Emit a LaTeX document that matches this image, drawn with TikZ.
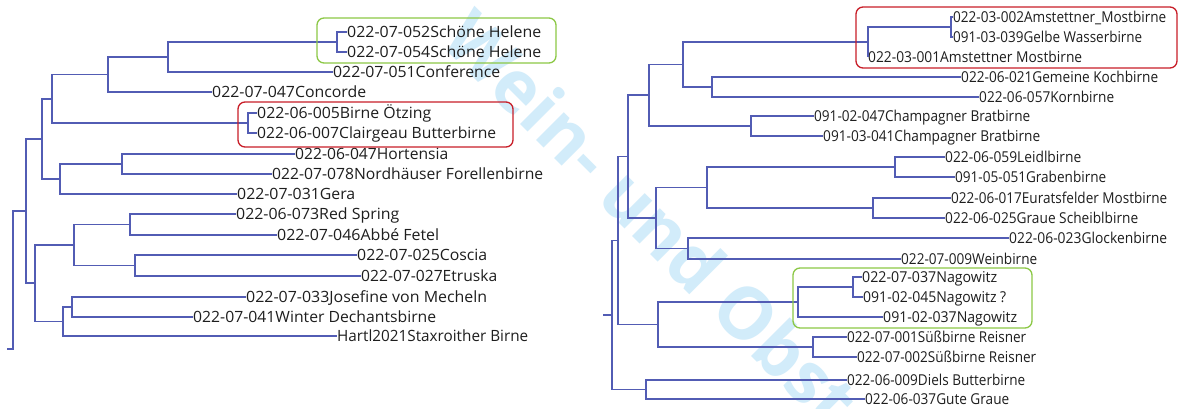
\documentclass[tikz,border=0pt]{standalone}
\usepackage{fontspec}
\usepackage{graphicx}
\setmainfont{Open Sans}
\definecolor{linec}{RGB}{82,92,180}
\definecolor{txt}{RGB}{30,30,30}
\definecolor{redc}{RGB}{200,30,40}
\definecolor{greenc}{RGB}{140,200,70}
\definecolor{wmark}{RGB}{210,236,250}
\newcommand{\fitw}[2]{\resizebox{#1pt}{\height}{#2}}
\begin{document}
\begin{tikzpicture}[x=1pt,y=-1pt,
  br/.style={draw=linec,line width=1.7pt},
  leaf/.style={anchor=west,inner sep=0pt,text height=10.5pt,text depth=0pt,
    font=\fontsize{15.5}{18}\selectfont,text=txt},
  leafr/.style={leaf,text height=10.2pt,font=\fontsize{15}{18}\selectfont},
  grpR/.style={draw=redc,line width=1.3pt,rounded corners=7pt},
  grpG/.style={draw=greenc,line width=1.3pt,rounded corners=7pt}]
\useasboundingbox[fill=white] (0,0) rectangle (1181,408);
% watermark
\begin{scope}
\clip (0,0) rectangle (1181,408);
\node[text=wmark,font=\bfseries\fontsize{72}{80}\selectfont,rotate=-45,inner sep=0pt] (wm) at (652,218) {Wein- und Obst};
\end{scope}
% ---------------- left tree leaves
\node[leaf] (L1) at (347,32) {\fitw{194}{022-07-052Schöne Helene}};
\node[leaf] (L2) at (347,52) {\fitw{194}{022-07-054Schöne Helene}};
\node[leaf] (L3) at (333,72) {\fitw{167}{022-07-051Conference}};
\node[leaf] (L4) at (212,92) {\fitw{154}{022-07-047Concorde}};
\node[leaf] (L5) at (257,113) {\fitw{174}{022-06-005Birne Ötzing}};
\node[leaf] (L6) at (257,133) {\fitw{239}{022-06-007Clairgeau Butterbirne}};
\node[leaf] (L7) at (295,154) {\fitw{153}{022-06-047Hortensia}};
\node[leaf] (L8) at (272,174) {\fitw{271}{022-07-078Nordhäuser Forellenbirne}};
\node[leaf] (L9) at (237,194) {\fitw{118}{022-07-031Gera}};
\node[leaf] (L10) at (236,214) {\fitw{163}{022-06-073Red Spring}};
\node[leaf] (L11) at (277,235) {\fitw{162}{022-07-046Abbé Fetel}};
\node[leaf] (L12) at (357,255) {\fitw{130}{022-07-025Coscia}};
\node[leaf] (L13) at (361,276) {\fitw{136}{022-07-027Etruska}};
\node[leaf] (L14) at (246,297) {\fitw{241}{022-07-033Josefine von Mecheln}};
\node[leaf] (L15) at (193,317) {\fitw{243}{022-07-041Winter Dechantsbirne}};
\node[leaf] (L16) at (337,336) {\fitw{191}{Hartl2021Staxroither Birne}};
% left internal nodes
\coordinate (la) at (337,42);
\coordinate (lb) at (168,57);
\coordinate (lc) at (108,74.5);
\coordinate (ld) at (248,123);
\coordinate (le) at (52,98.75);
\coordinate (lf) at (122,164);
\coordinate (lg) at (60,179);
\coordinate (lh) at (42,138.9);
\coordinate (li) at (130,224.5);
\coordinate (lj) at (135,265.5);
\coordinate (lk) at (74,245);
\coordinate (ll) at (72,307);
\coordinate (lm) at (63,321.5);
\coordinate (ln) at (35,283.25);
\coordinate (lo) at (26,211);
\coordinate (lr) at (13,349);
\coordinate (ls) at (7,349);
\draw[br] (la) |- (L1.west); \draw[br] (la) |- (L2.west);
\draw[br] (lb) |- (la); \draw[br] (lb) |- (L3.west);
\draw[br] (lc) |- (lb); \draw[br] (lc) |- (L4.west);
\draw[br] (ld) |- (L5.west); \draw[br] (ld) |- (L6.west);
\draw[br] (le) |- (lc); \draw[br] (le) |- (ld);
\draw[br] (lf) |- (L7.west); \draw[br] (lf) |- (L8.west);
\draw[br] (lg) |- (lf); \draw[br] (lg) |- (L9.west);
\draw[br] (lh) |- (le); \draw[br] (lh) |- (lg);
\draw[br] (li) |- (L10.west); \draw[br] (li) |- (L11.west);
\draw[br] (lj) |- (L12.west); \draw[br] (lj) |- (L13.west);
\draw[br] (lk) |- (li); \draw[br] (lk) |- (lj);
\draw[br] (ll) |- (L14.west); \draw[br] (ll) |- (L15.west);
\draw[br] (lm) |- (ll); \draw[br] (lm) |- (L16.west);
\draw[br] (ln) |- (lk); \draw[br] (ln) |- (lm);
\draw[br] (lo) |- (lh); \draw[br] (lo) |- (ln);
\draw[br] (ls) -- (lr) |- (lo);
% left groups
\draw[grpG] (317,18) rectangle (556,63);
\draw[grpR] (238,102) rectangle (513,147);
% ---------------- right tree leaves
\node[leafr] (R1) at (953,17) {\fitw{213}{022-03-002Amstettner\_Mostbirne}};
\node[leafr] (R2) at (953,37) {\fitw{189}{091-03-039Gelbe Wasserbirne}};
\node[leafr] (R3) at (868,57) {\fitw{214}{022-03-001Amstettner Mostbirne}};
\node[leafr] (R4) at (961,77) {\fitw{197}{022-06-021Gemeine Kochbirne}};
\node[leafr] (R5) at (979,97) {\fitw{135}{022-06-057Kornbirne}};
\node[leafr] (R6) at (814,116) {\fitw{216}{091-02-047Champagner Bratbirne}};
\node[leafr] (R7) at (823,136) {\fitw{217}{091-03-041Champagner Bratbirne}};
\node[leafr] (R8) at (945,157) {\fitw{136}{022-06-059Leidlbirne}};
\node[leafr] (R9) at (955,177) {\fitw{151}{091-05-051Grabenbirne}};
\node[leafr] (R10) at (951,198) {\fitw{216}{022-06-017Euratsfelder Mostbirne}};
\node[leafr] (R11) at (945,218) {\fitw{193}{022-06-025Graue Scheiblbirne}};
\node[leafr] (R12) at (1009,238) {\fitw{158}{022-06-023Glockenbirne}};
\node[leafr] (R13) at (901,259) {\fitw{136}{022-07-009Weinbirne}};
\node[leafr] (R14) at (862,277) {\fitw{135}{022-07-037Nagowitz}};
\node[leafr] (R15) at (863,297) {\fitw{143}{091-02-045Nagowitz ?}};
\node[leafr] (R16) at (883,317) {\fitw{134}{091-02-037Nagowitz}};
\node[leafr] (R17) at (847,337) {\fitw{179}{022-07-001Süßbirne Reisner}};
\node[leafr] (R18) at (857,357) {\fitw{179}{022-07-002Süßbirne Reisner}};
\node[leafr] (R19) at (847,380) {\fitw{178}{022-06-009Diels Butterbirne}};
\node[leafr] (R20) at (865,399) {\fitw{144}{022-06-037Gute Graue}};
% right internal nodes
\coordinate (ra) at (951,27);
\coordinate (rb) at (868,42);
\coordinate (rc) at (712,87);
\coordinate (rd) at (683,64.5);
\coordinate (re) at (751,126);
\coordinate (rf) at (649,95.25);
\coordinate (rg) at (895,167);
\coordinate (rh) at (873,208);
\coordinate (ri) at (707,187.5);
\coordinate (rj) at (688,248.5);
\coordinate (rk) at (656,218);
\coordinate (rl) at (628,156.6);
\coordinate (rm) at (853,287);
\coordinate (rn) at (798,302);
\coordinate (ro) at (813,347);
\coordinate (rp) at (658,324.5);
\coordinate (rq) at (618,240.6);
\coordinate (rr) at (646,389.5);
\coordinate (rs) at (612,315);
\coordinate (rt) at (603,315);
\draw[br] (ra) |- (R1.west); \draw[br] (ra) |- (R2.west);
\draw[br] (rb) |- (ra); \draw[br] (rb) |- (R3.west);
\draw[br] (rc) |- (R4.west); \draw[br] (rc) |- (R5.west);
\draw[br] (rd) |- (rb); \draw[br] (rd) |- (rc);
\draw[br] (re) |- (R6.west); \draw[br] (re) |- (R7.west);
\draw[br] (rf) |- (rd); \draw[br] (rf) |- (re);
\draw[br] (rg) |- (R8.west); \draw[br] (rg) |- (R9.west);
\draw[br] (rh) |- (R10.west); \draw[br] (rh) |- (R11.west);
\draw[br] (ri) |- (rg); \draw[br] (ri) |- (rh);
\draw[br] (rj) |- (R12.west); \draw[br] (rj) |- (R13.west);
\draw[br] (rk) |- (ri); \draw[br] (rk) |- (rj);
\draw[br] (rl) |- (rf); \draw[br] (rl) |- (rk);
\draw[br] (rm) |- (R14.west); \draw[br] (rm) |- (R15.west);
\draw[br] (rn) |- (rm); \draw[br] (rn) |- (R16.west);
\draw[br] (ro) |- (R17.west); \draw[br] (ro) |- (R18.west);
\draw[br] (rp) |- (rn); \draw[br] (rp) |- (ro);
\draw[br] (rq) |- (rl); \draw[br] (rq) |- (rp);
\draw[br] (rr) |- (R19.west); \draw[br] (rr) |- (R20.west);
\draw[br] (rs) |- (rq); \draw[br] (rs) |- (rr);
\draw[br] (rt) -- (rs);
% right groups
\draw[grpR] (856,7) rectangle (1177,68);
\draw[grpG] (793,268) rectangle (1032,328);
\end{tikzpicture}
\end{document}
